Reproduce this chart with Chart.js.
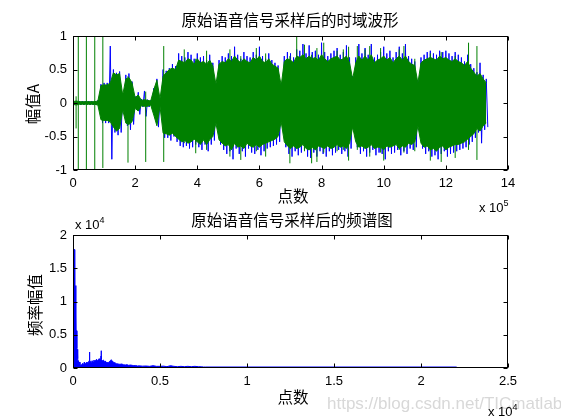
<!DOCTYPE html>
<html>
<head>
<meta charset="utf-8">
<script src="https://cdn.jsdelivr.net/npm/chart.js@4.4.1/dist/chart.umd.min.js"></script>
<style>
  body { margin: 0; background: #fff; }
  #wrap { position: relative; width: 561px; height: 420px; overflow: hidden; font-family: "Liberation Sans", Arial, sans-serif; }
  canvas { position: absolute; left: 0; top: 0; }
  .t { position: absolute; white-space: nowrap; color: #000; transform: translate(-50%, -50%); line-height: 1; }
  .cjk { font-family: "Noto Sans CJK SC", sans-serif; font-size: 15.5px; }
  .rot { transform: translate(-50%, -50%) rotate(-90deg); }
  .exp { position: absolute; white-space: nowrap; font-size: 13px; line-height: 13px; color: #000; }
  .exp sup { font-size: 9px; vertical-align: 6px; line-height: 0; }
  .wm { position: absolute; left: 327px; top: 394px; font-size: 17px; color: #d8d8d8; white-space: nowrap; }
</style>
</head>
<body>
<div id="wrap">
  <canvas id="wave" width="561" height="420"></canvas>
  <canvas id="spec" width="561" height="420"></canvas>
  <div class="t cjk" style="left:290px; top:20px;">原始语音信号采样后的时域波形</div>
  <div class="t cjk" style="left:293px; top:196px;">点数</div>
  <div class="t cjk rot" style="left:33px; top:104px;">幅值A</div>
  <div class="exp" style="left:479px; top:201px;">x 10<sup>5</sup></div>
  <div class="t cjk" style="left:292px; top:220px;">原始语音信号采样后的频谱图</div>
  <div class="exp" style="left:75px; top:218px;">x 10<sup>4</sup></div>
  <div class="t cjk" style="left:293px; top:397px;">点数</div>
  <div class="t cjk rot" style="left:35px; top:305px;">频率幅值</div>
  <div class="wm">https://blog.csdn.net/TICmatlab</div>
  <div class="exp" style="left:488px; top:405px;">x 10<sup>4</sup></div>
</div>
<script>
// time-domain waveform, one envelope value (max / min) every 1e4 samples, 0 .. 13.3e5
const waveStep = 1e4;
// green channel: dense body
const greenHi = [
  .02, .03, .02, .02, .02, .02, .02, .02, .03, .26,
  .27, .27, .30, .45, .42, .44, .12, .36, .38, .30,
  .08, .12, .04, .05, .04, .03, .20, .34, .06, .40,
  .45, .50, .52, .50, .64, .62, .60, .66, .64, .58,
  .66, .60, .62, .58, .64, .55, .28, .58, .62, .60,
  .66, .62, .70, .64, .60, .66, .62, .60, .68, .64,
  .70, .62, .60, .66, .58, .55, .52, .26, .62, .66,
  .64, .60, .70, .68, .72, .66, .70, .66, .68, .64,
  .72, .66, .62, .66, .68, .70, .64, .66, .70, .60,
  .36, .60, .70, .64, .70, .64, .72, .60, .64, .66,
  .70, .64, .68, .60, .66, .70, .64, .70, .62, .58,
  .56, .30, .60, .64, .66, .68, .66, .64, .70, .66,
  .68, .64, .62, .66, .62, .60, .56, .62, .52, .46,
  .40, .44, .36, .30
];
const greenLo = [
  -.02, -.03, -.02, -.02, -.02, -.02, -.02, -.02, -.03, -.25,
  -.26, -.26, -.28, -.36, -.42, -.38, -.10, -.30, -.32, -.28,
  -.08, -.12, -.04, -.05, -.05, -.03, -.18, -.34, -.05, -.45,
  -.46, -.48, -.45, -.50, -.54, -.58, -.56, -.60, -.58, -.54,
  -.58, -.62, -.55, -.62, -.55, -.50, -.30, -.55, -.60, -.64,
  -.62, -.70, -.60, -.66, -.64, -.68, -.60, -.64, -.66, -.62,
  -.66, -.62, -.60, -.58, -.56, -.54, -.50, -.28, -.58, -.64,
  -.68, -.64, -.68, -.66, -.62, -.68, -.70, -.66, -.70, -.64,
  -.66, -.68, -.64, -.68, -.66, -.62, -.66, -.64, -.68, -.60,
  -.36, -.58, -.66, -.64, -.68, -.66, -.62, -.68, -.66, -.66,
  -.70, -.64, -.66, -.64, -.62, -.68, -.64, -.66, -.60, -.62,
  -.58, -.34, -.60, -.66, -.64, -.70, -.68, -.72, -.66, -.64,
  -.70, -.66, -.64, -.62, -.62, -.60, -.58, -.54, -.50, -.46,
  -.38, -.42, -.34, -.30
];
// green channel: isolated spikes (sample index, min, max)
const spikeX = [10e3, 17e3, 43e3, 70e3, 96e3, 177e3, 234e3, 292e3, 358e3, 395e3,
  430e3, 505e3, 540e3, 590e3, 620e3, 698e3, 720e3, 745e3, 768e3, 785e3,
  807e3, 850e3, 870e3, 887e3, 915e3, 940e3, 955e3, 990e3, 1000e3, 1050e3,
  1065e3, 1100e3, 1150e3, 1185e3, 1230e3, 1273e3, 1300e3];
const spikeLo = [-.38, -1, -1, -1, -.97, -.89, -.88, -.88, -.60, -.75,
  -.70, -.80, -.85, -.72, -.80, -.90, -.68, -.72, -.90, -.88,
  -.74, -.72, -.70, -.86, -.70, -.66, -.80, -.74, -.86, -.70,
  -.74, -.72, -.86, -.88, -.82, -.70, -.85];
const spikeHi = [.10, 1, 1, 1, 1, .40, .17, .85, .80, .66,
  .78, .80, .70, .82, .74, .70, 1.0, .87, .72, .82,
  .90, .78, .80, .84, .85, .80, .85, .82, .70, .80,
  .85, .66, .74, .76, .70, .90, .85];
// blue channel peaks
const blueHi = [
  .03, .03, .03, .03, .03, .03, .03, .03, .04, .28,
  .30, .30, .85, .50, .45, .47, .14, .42, .44, .32,
  .10, .16, .06, .18, .05, .04, .22, .36, .08, .50,
  .48, .52, .58, .55, .74, .70, .68, .76, .72, .66,
  .74, .68, .70, .64, .72, .60, .30, .64, .70, .68,
  .74, .70, .84, .72, .66, .76, .70, .68, .76, .72,
  .84, .70, .66, .74, .64, .60, .56, .30, .70, .76,
  .74, .68, .80, .78, .88, .74, .86, .76, .78, .72,
  .90, .76, .70, .74, .78, .82, .72, .76, .86, .68,
  .40, .68, .88, .74, .82, .72, .88, .68, .72, .76,
  .84, .74, .78, .68, .76, .84, .74, .88, .70, .66,
  .62, .34, .68, .72, .76, .78, .74, .72, .78, .76,
  .78, .74, .70, .76, .72, .68, .62, .72, .58, .52,
  .46, .60, .42, .36
];
const blueLo = [
  -.03, -.03, -.03, -.03, -.03, -.03, -.03, -.03, -.04, -.30,
  -.30, -.30, -.84, -.44, -.48, -.44, -.12, -.34, -.40, -.32,
  -.10, -.17, -.06, -.20, -.06, -.04, -.20, -.36, -.07, -.52,
  -.52, -.56, -.50, -.58, -.64, -.66, -.64, -.68, -.66, -.62,
  -.66, -.70, -.62, -.72, -.62, -.56, -.34, -.62, -.70, -.76,
  -.72, -.84, -.68, -.76, -.72, -.80, -.68, -.74, -.76, -.70,
  -.78, -.72, -.68, -.66, -.64, -.62, -.58, -.32, -.66, -.76,
  -.80, -.72, -.78, -.74, -.70, -.80, -.82, -.74, -.80, -.72,
  -.76, -.80, -.72, -.78, -.74, -.70, -.76, -.72, -.80, -.68,
  -.40, -.66, -.76, -.72, -.80, -.74, -.70, -.78, -.74, -.76,
  -.84, -.72, -.76, -.74, -.70, -.78, -.72, -.76, -.68, -.70,
  -.66, -.38, -.68, -.76, -.72, -.80, -.78, -.84, -.76, -.72,
  -.80, -.76, -.74, -.72, -.70, -.68, -.66, -.62, -.58, -.52,
  -.44, -.60, -.40, -.36
];

// spectrum: frequency point and magnitude
const specFreq = [0, 110, 115, 160, 165, 215, 220, 250, 260, 280, 295, 310, 330, 360, 400, 450, 500, 550, 600, 650,
  700, 750, 800, 850, 900, 940, 950, 960, 1000, 1050, 1100, 1150, 1200, 1250, 1300, 1350, 1400, 1450, 1500, 1550,
  1600, 1610, 1620, 1630, 1700, 1750, 1800, 1850, 1900, 1950, 2000, 2050, 2100, 2150, 2200, 2250, 2300, 2400, 2500, 2600,
  2700, 2800, 2900, 3000, 3100, 3200, 3300, 3400, 3500, 3600, 3700, 3800, 4000, 4200, 4400, 4600, 4800, 5000, 5200, 5400,
  5600, 5700, 5800, 6000, 6200, 6400, 6600, 6800, 7000, 7200, 7400, 7500, 7600, 22050];
const specAmp = [17800, 17800, 12400, 12400, 5600, 5600, 3000, 2800, 1600, 1400, 900, 1100, 700, 900, 600, 400, 500, 700, 400, 900,
  650, 800, 900, 700, 1000, 900, 2400, 900, 1000, 800, 1100, 900, 1200, 1000, 1150, 1300, 1100, 1250, 1400, 1200,
  1300, 1800, 2600, 1300, 1100, 1200, 950, 1050, 850, 900, 750, 850, 1000, 1100, 1250, 1050, 900, 800, 650, 600,
  550, 600, 500, 450, 500, 400, 450, 400, 350, 380, 300, 320, 280, 300, 250, 350, 250, 250, 280, 200,
  350, 300, 250, 200, 250, 200, 250, 200, 250, 200, 180, 150, 150, 150];

Chart.defaults.font.family = '"Liberation Sans", Arial, sans-serif';
Chart.defaults.font.size = 13;
Chart.defaults.color = '#000';

const atStep = arr => arr.map((v, i) => ({ x: i * waveStep, y: v }));

function zigzag(hi, lo) {
  const pts = [];
  hi.forEach((h, i) => {
    pts.push({ x: i * waveStep, y: h });
    pts.push({ x: i * waveStep + waveStep / 2, y: lo[i] });
  });
  return pts;
}

function spikes(xs, lo, hi) {
  const pts = [];
  xs.forEach((x, i) => {
    pts.push({ x, y: lo[i] }, { x, y: hi[i] }, { x, y: null });
  });
  return pts;
}

// matlab style box with inward ticks
const matlabBox = {
  id: 'matlabBox',
  afterDraw(chart) {
    const { ctx, chartArea: a, scales } = chart;
    const l = Math.round(a.left) + 0.5, r = Math.round(a.right) - 0.5;
    const t = Math.round(a.top) + 0.5, b = Math.round(a.bottom) - 0.5;
    ctx.save();
    ctx.strokeStyle = '#000';
    ctx.lineWidth = 1;
    ctx.strokeRect(l, t, r - l, b - t);
    ctx.beginPath();
    scales.x.ticks.forEach(tk => {
      const px = Math.round(scales.x.getPixelForValue(tk.value)) + 0.5;
      ctx.moveTo(px, b); ctx.lineTo(px, b - 4);
      ctx.moveTo(px, t); ctx.lineTo(px, t + 4);
    });
    scales.y.ticks.forEach(tk => {
      const py = Math.round(scales.y.getPixelForValue(tk.value)) + 0.5;
      ctx.moveTo(l, py); ctx.lineTo(l + 4, py);
      ctx.moveTo(r, py); ctx.lineTo(r - 4, py);
    });
    ctx.stroke();
    ctx.restore();
  }
};

function axisOpts(min, max, step, scale, fit) {
  return {
    type: 'linear', min, max,
    grid: { display: false, drawTicks: false },
    border: { display: false },
    ticks: { stepSize: step, autoSkip: false, maxRotation: 0, padding: 6,
      callback: v => +(v / scale).toFixed(2) },
    afterFit: fit
  };
}

const GREEN = '#008000', BLUE = '#0000ff';

new Chart(document.getElementById('wave'), {
  type: 'line',
  data: {
    datasets: [
      { data: spikes(spikeX, spikeLo, spikeHi), borderColor: GREEN, borderWidth: 1, pointRadius: 0, spanGaps: false, order: 0 },
      { data: atStep(greenHi), borderColor: GREEN, backgroundColor: GREEN, borderWidth: 1, pointRadius: 0, fill: 2, order: 1 },
      { data: atStep(greenLo), borderColor: GREEN, borderWidth: 1, pointRadius: 0, order: 1 },
      { data: zigzag(blueHi, blueLo), borderColor: BLUE, borderWidth: 1, pointRadius: 0, order: 3 }
    ]
  },
  options: {
    responsive: false,
    animation: false,
    layout: { padding: { left: 0, top: 36, right: 53, bottom: 0 } },
    plugins: { legend: { display: false }, tooltip: { enabled: false } },
    scales: {
      x: axisOpts(0, 14e5, 2e5, 1e5, s => { s.height = 250; }),
      y: axisOpts(-1, 1, 0.5, 1, s => { s.width = 73; })
    }
  },
  plugins: [matlabBox]
});

new Chart(document.getElementById('spec'), {
  type: 'line',
  data: {
    datasets: [{
      data: specFreq.map((f, i) => ({ x: f, y: specAmp[i] })),
      borderColor: BLUE, backgroundColor: BLUE, borderWidth: 1,
      fill: 'origin', pointRadius: 0
    }]
  },
  options: {
    responsive: false,
    animation: false,
    layout: { padding: { left: 0, top: 235, right: 53, bottom: 0 } },
    plugins: { legend: { display: false }, tooltip: { enabled: false } },
    scales: {
      x: axisOpts(0, 25000, 5000, 1e4, s => { s.height = 52; }),
      y: axisOpts(0, 20000, 5000, 1e4, s => { s.width = 73; })
    }
  },
  plugins: [matlabBox]
});
</script>
</body>
</html>
